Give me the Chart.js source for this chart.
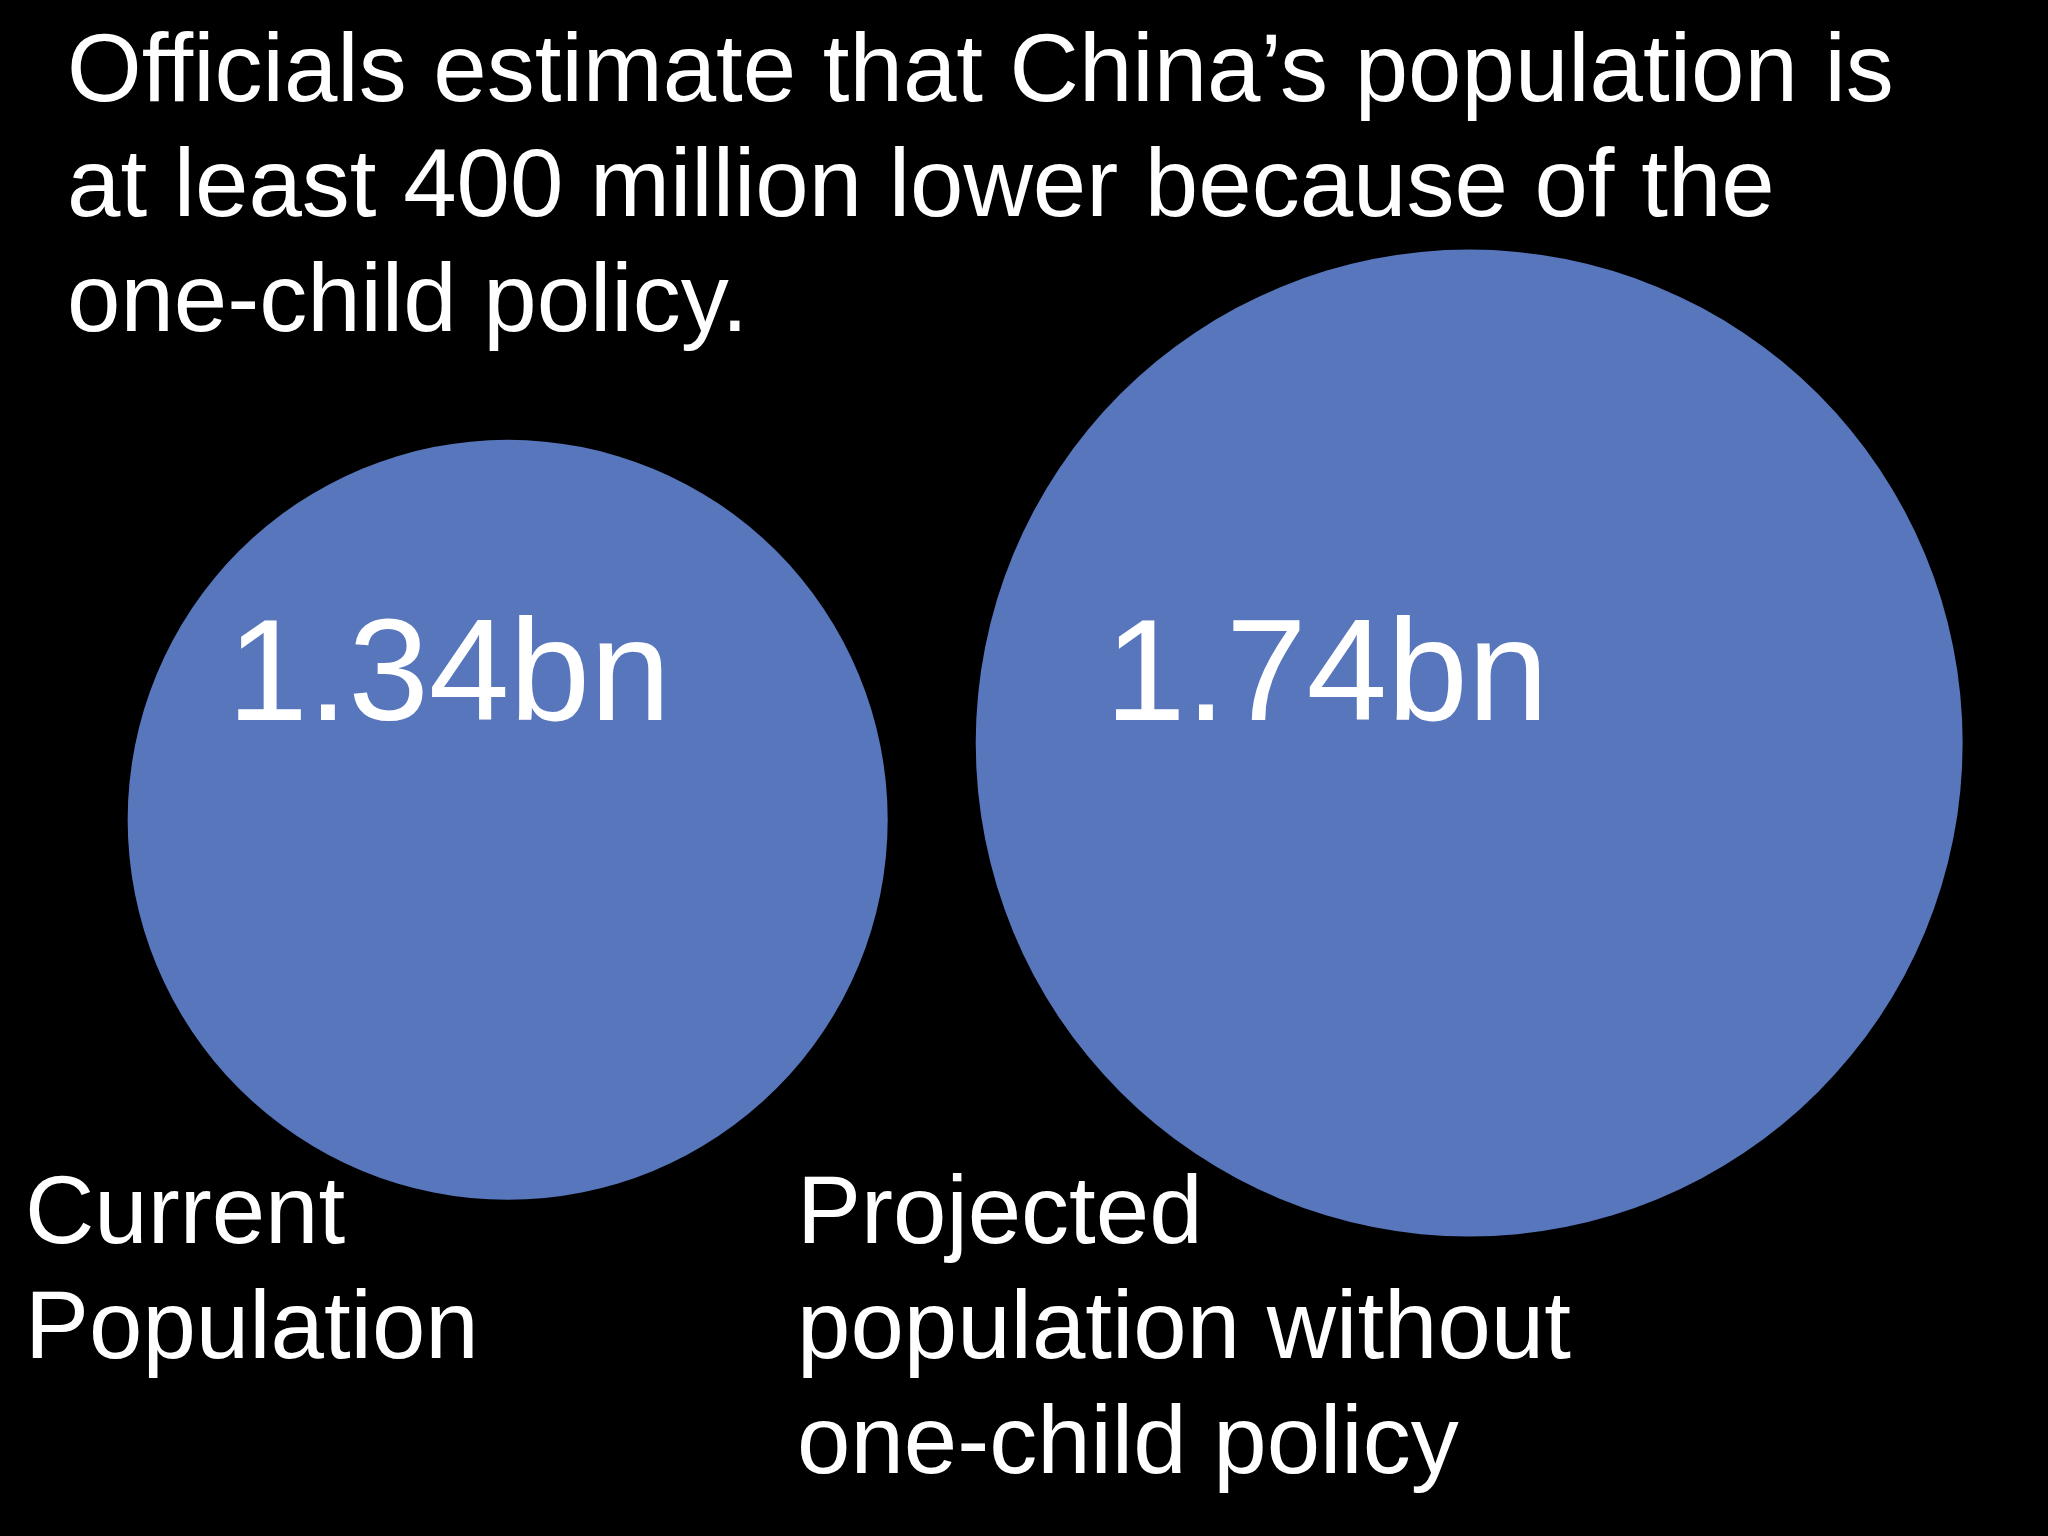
<!DOCTYPE html>
<html>
<head>
<meta charset="utf-8">
<script src="https://cdn.jsdelivr.net/npm/chart.js@4/dist/chart.umd.min.js"></script>
<style>
	html, body { margin: 0; padding: 0; background: #000; }
	#wrap { width: 2048px; height: 1536px; }
</style>
</head>
<body>
<div id="wrap"><canvas id="popChart" width="2048" height="1536"></canvas></div>
<script>
var titleLines = [
	"Officials estimate that China\u2019s population is",
	"at least 400 million lower because of the",
	"one-child policy."
];
var categories = ["Current Population", "Projected population without one-child policy"];
var categoryLines = [
	["Current", "Population"],
	["Projected", "population without", "one-child policy"]
];
var populationBn = [1.34, 1.74];
var valueLabels = ["1.34bn", "1.74bn"];

var FONT = '"Liberation Sans", Arial, sans-serif';
var pxPerBn = 283.6; // radius grows linearly with the value

// title, bubble values and category captions drawn on top of the bubbles
var slideText = {
	id: "slideText",
	afterDatasetsDraw: function (chart) {
		var ctx = chart.ctx;
		var area = chart.chartArea;
		ctx.save();
		ctx.fillStyle = "#ffffff";
		ctx.textAlign = "left";
		ctx.textBaseline = "alphabetic";

		ctx.font = "96px " + FONT;
		titleLines.forEach(function (line, i) {
			ctx.fillText(line, area.left + 67, area.top + 101 + i * 115);
		});

		var labelX = [25, 797];
		categoryLines.forEach(function (lines, i) {
			lines.forEach(function (line, j) {
				ctx.fillText(line, area.left + labelX[i], area.top + 1243 + j * 115);
			});
		});

		ctx.font = "145px " + FONT;
		chart.getDatasetMeta(0).data.forEach(function (el, i) {
			var r = el.options.radius;
			ctx.fillText(valueLabels[i], el.x - 0.738 * r, area.top + 720);
		});
		ctx.restore();
	}
};

var ctx = document.getElementById("popChart").getContext("2d");
var popChart = new Chart(ctx, {
	type: "bubble",
	data: {
		labels: categories,
		datasets: [
			{
				label: "Population (bn)",
				data: populationBn.map(function (v, i) {
					return { x: i, y: v };
				}),
				backgroundColor: "#5876bc",
				borderWidth: 0,
				radius: function (c) {
					return (populationBn[c.dataIndex] || 0) * pxPerBn;
				},
				clip: false
			}
		]
	},
	options: {
		responsive: false,
		animation: false,
		events: [],
		layout: { padding: 0, autoPadding: false },
		plugins: {
			legend: { display: false },
			title: { display: false },
			tooltip: { enabled: false }
		},
		scales: {
			x: { type: "linear", display: false, min: -0.528, max: 1.602 },
			y: { type: "linear", display: false, min: -2.39, max: 5.61 }
		}
	},
	plugins: [slideText]
});
</script>
</body>
</html>
